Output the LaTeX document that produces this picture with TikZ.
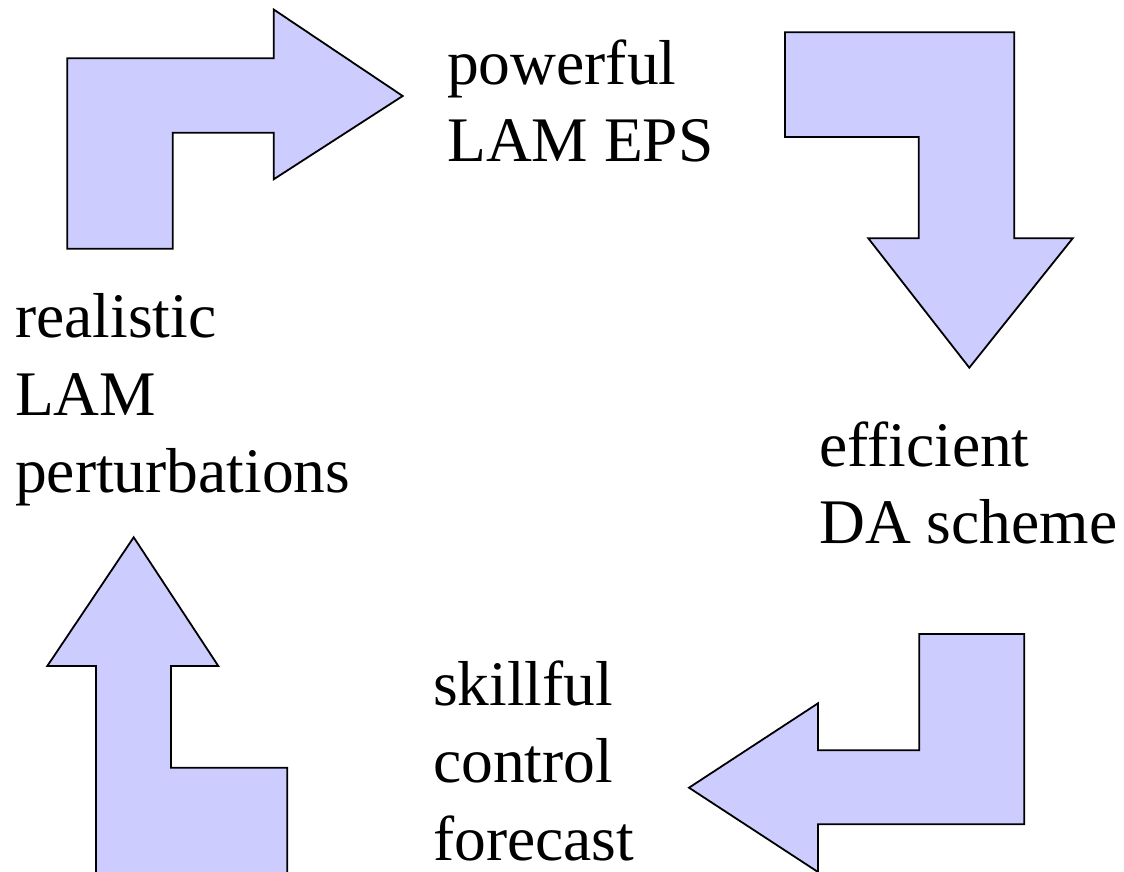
\documentclass[tikz,border=0pt]{standalone}
\usepackage{fontspec}
\setmainfont{Liberation Serif}
\definecolor{arrowfill}{HTML}{CCCCFF}
\begin{document}
\begin{tikzpicture}[x=1pt,y=-1pt,
  bentarrow/.style={draw=black,fill=arrowfill,line width=1.8pt,line join=miter},
  label/.style={anchor=base west,align=left,inner sep=0pt,
    font=\fontsize{63.5}{77.3}\selectfont}]
\useasboundingbox (0,0) rectangle (1124,872);
% top-left arrow (right)
\draw[bentarrow] (67.3,58.3) -- (273.7,58.3) -- (273.7,9.5) -- (402.7,96) -- (273.7,179.3) -- (273.7,132.7) -- (172.7,132.7) -- (172.7,248.7) -- (67.3,248.7) -- cycle;
% top-right arrow (down)
\draw[bentarrow] (785,32.3) -- (1014.3,32.3) -- (1014.3,238.3) -- (1072.7,238.3) -- (969.3,367.7) -- (868.3,238.3) -- (918.7,238.3) -- (918.7,137) -- (785,137) -- cycle;
% bottom-right arrow (left)
\draw[bentarrow] (919.3,634) -- (1024.3,634) -- (1024.3,824.3) -- (818,824.3) -- (818,872) -- (689,787.7) -- (818,703.3) -- (818,750.3) -- (919.3,750.3) -- cycle;
% bottom-left arrow (up)
\draw[bentarrow] (133.7,537.3) -- (218.3,666) -- (171,666) -- (171,767.7) -- (287.3,767.7) -- (287.3,873) -- (96,873) -- (96,666) -- (47.3,666) -- cycle;
% labels (base anchor = baseline of the last line)
\node[label] (eps) at (447,161.7) {powerful\\LAM EPS};
\node[label] (da) at (819,543.3) {efficient\\DA scheme};
\node[label] (ctrl) at (433,860) {skillful\\control\\forecast};
\node[label] (pert) at (15,492.3) {realistic\\LAM\\perturbations};
\end{tikzpicture}
\end{document}
